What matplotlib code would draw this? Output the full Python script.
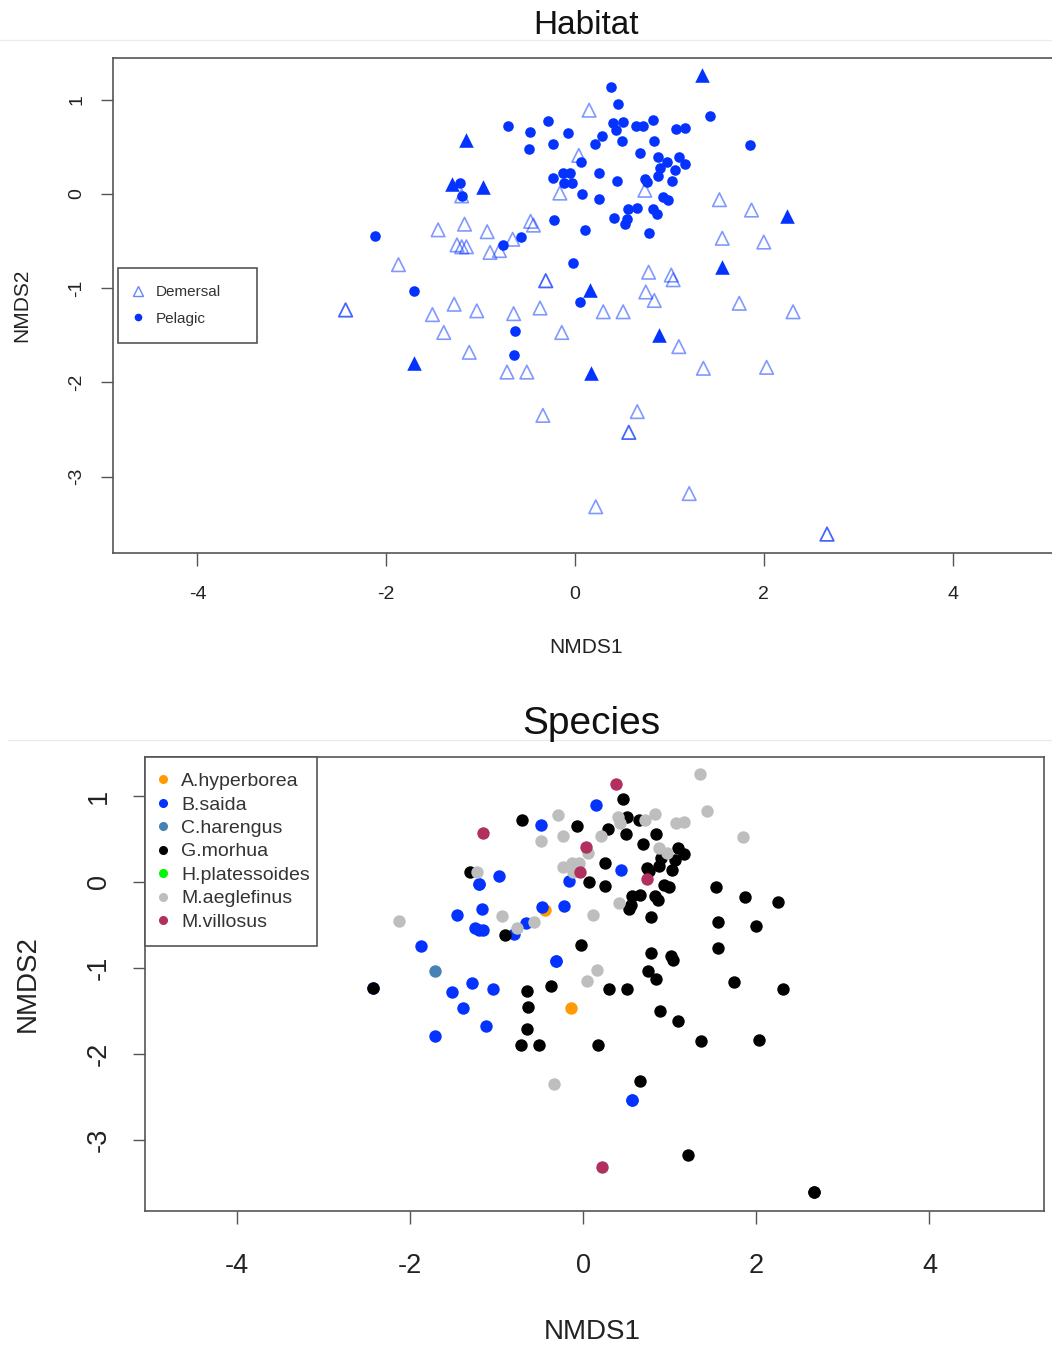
"""NMDS ordination: habitat (top) and species (bottom)"""

import matplotlib
matplotlib.use("Agg")
import matplotlib.pyplot as plt
from matplotlib.lines import Line2D

plt.rcParams['font.family'] = ['Liberation Sans', 'DejaVu Sans']

# ---- data (NMDS scores) ----
# pelagic samples (filled circles in the habitat plot)
pel_x = [-0.71, -0.48, -0.29, -0.07, -0.49, -0.23, -1.22, -1.20, -0.23, -0.13,
         -0.05, -0.12, -0.03, 0.07, -0.22, -0.76, -0.57, -2.12, -1.71, -0.02,
         0.05, -0.64, -0.65, 0.38, 0.46, 1.43, 0.40, 0.51, 0.43, 0.65,
         0.72, 0.83, 1.07, 1.17, 0.29, 0.21, 0.50, 0.84, 1.85, 0.69,
         0.06, 0.88, 0.97, 0.90, 1.10, 1.17, 1.06, 1.03, 0.25, 0.44,
         0.74, 0.76, 0.88, 0.25, 0.93, 0.99, 0.56, 0.66, 0.83, 0.87,
         0.41, 0.55, 0.53, 0.11, 0.78]
pel_y = [0.72, 0.66, 0.78, 0.65, 0.48, 0.53, 0.12, -0.02, 0.17, 0.22,
         0.22, 0.12, 0.12, 0.00, -0.28, -0.54, -0.46, -0.45, -1.03, -0.73,
         -1.15, -1.45, -1.71, 1.14, 0.96, 0.83, 0.75, 0.76, 0.68, 0.72,
         0.72, 0.79, 0.69, 0.70, 0.62, 0.53, 0.56, 0.56, 0.52, 0.44,
         0.34, 0.39, 0.34, 0.28, 0.39, 0.32, 0.25, 0.14, 0.22, 0.14,
         0.16, 0.13, 0.19, -0.05, -0.03, -0.06, -0.16, -0.15, -0.16, -0.21,
         -0.25, -0.27, -0.32, -0.38, -0.41]
pel_sp = ['G.morhua', 'B.saida', 'M.aeglefinus', 'G.morhua', 'M.aeglefinus',
          'M.aeglefinus', 'M.aeglefinus', 'B.saida', 'M.aeglefinus', 'M.aeglefinus',
          'M.aeglefinus', 'M.aeglefinus', 'M.villosus', 'G.morhua', 'B.saida',
          'M.aeglefinus', 'M.aeglefinus', 'M.aeglefinus', 'C.harengus', 'G.morhua',
          'M.aeglefinus', 'G.morhua', 'G.morhua', 'M.villosus', 'G.morhua',
          'M.aeglefinus', 'M.aeglefinus', 'G.morhua', 'M.aeglefinus', 'G.morhua',
          'M.aeglefinus', 'M.aeglefinus', 'M.aeglefinus', 'M.aeglefinus', 'G.morhua',
          'M.aeglefinus', 'G.morhua', 'G.morhua', 'M.aeglefinus', 'G.morhua',
          'M.aeglefinus', 'M.aeglefinus', 'M.aeglefinus', 'G.morhua', 'G.morhua',
          'G.morhua', 'G.morhua', 'G.morhua', 'G.morhua', 'B.saida',
          'G.morhua', 'G.morhua', 'G.morhua', 'G.morhua', 'G.morhua',
          'G.morhua', 'G.morhua', 'G.morhua', 'G.morhua', 'G.morhua',
          'M.aeglefinus', 'G.morhua', 'G.morhua', 'M.aeglefinus', 'G.morhua']

# samples drawn as filled triangles (not in the legend)
mix_x = [1.35, -1.15, -1.30, -0.97, 2.25, 1.56, 0.16, -1.71, 0.89, 0.17]
mix_y = [1.26, 0.57, 0.11, 0.07, -0.23, -0.77, -1.02, -1.79, -1.50, -1.90]
mix_sp = ['M.aeglefinus', 'M.villosus', 'G.morhua', 'B.saida', 'G.morhua',
          'G.morhua', 'M.aeglefinus', 'B.saida', 'G.morhua', 'G.morhua']

# demersal samples (open triangles)
dem_x = [-1.20, -0.16, -1.45, -1.17, -0.93, -0.47, -0.44, -1.25, -1.20, -1.15,
         -0.90, -0.80, -0.66, -1.87, -0.31, -0.31, -2.43, -2.43, -1.51, -1.28,
         -1.04, -0.65, -0.37, -1.39, -0.14, -1.12, -0.72, -0.51, -0.34, 0.15,
         0.04, 0.74, 1.53, 1.87, 1.56, 2.00, 0.78, 1.02, 1.04, 0.75,
         0.84, 0.30, 0.51, 1.74, 2.31, 1.10, 1.36, 2.03, 0.66, 0.57,
         0.57, 1.21, 0.22, 2.67, 2.67]
dem_y = [-0.02, 0.01, -0.38, -0.32, -0.40, -0.29, -0.33, -0.54, -0.56, -0.56,
         -0.62, -0.60, -0.48, -0.75, -0.92, -0.92, -1.23, -1.23, -1.28, -1.17,
         -1.24, -1.27, -1.21, -1.47, -1.47, -1.68, -1.89, -1.89, -2.35, 0.89,
         0.41, 0.04, -0.06, -0.17, -0.47, -0.51, -0.83, -0.86, -0.91, -1.04,
         -1.13, -1.25, -1.25, -1.16, -1.25, -1.62, -1.85, -1.84, -2.31, -2.53,
         -2.53, -3.18, -3.32, -3.61, -3.61]
dem_sp = ['B.saida', 'B.saida', 'B.saida', 'B.saida', 'M.aeglefinus',
          'B.saida', 'A.hyperborea', 'B.saida', 'B.saida', 'B.saida',
          'G.morhua', 'B.saida', 'B.saida', 'B.saida', 'B.saida',
          'B.saida', 'B.saida', 'G.morhua', 'B.saida', 'B.saida',
          'B.saida', 'G.morhua', 'G.morhua', 'B.saida', 'A.hyperborea',
          'B.saida', 'G.morhua', 'G.morhua', 'M.aeglefinus', 'B.saida',
          'M.villosus', 'M.villosus', 'G.morhua', 'G.morhua', 'G.morhua',
          'G.morhua', 'G.morhua', 'G.morhua', 'G.morhua', 'G.morhua',
          'G.morhua', 'G.morhua', 'G.morhua', 'G.morhua', 'G.morhua',
          'G.morhua', 'G.morhua', 'G.morhua', 'G.morhua', 'B.saida',
          'B.saida', 'G.morhua', 'M.villosus', 'G.morhua', 'G.morhua']

species_names = ['A.hyperborea', 'B.saida', 'C.harengus', 'G.morhua',
                 'H.platessoides', 'M.aeglefinus', 'M.villosus']
species_colors = ['#FF9A00', '#0433FF', '#4682B4', '#000000',
                  '#00F900', '#BEBEBE', '#B03060']

x_ticks = [-4, -2, 0, 2, 4]
y_ticks = [-3, -2, -1, 0, 1]

BLUE = '#0433FF'
SPINE = '#555555'
W, H = 1052, 1347


def px_axes(fig, left, top, right, bottom):
    return fig.add_axes([left / W, 1 - bottom / H, (right - left) / W, (bottom - top) / H])


def style(ax, fs, tick_len, xpad, ypad):
    ax.set_xticks(x_ticks)
    ax.set_yticks(y_ticks)
    ax.set_xticklabels([str(t) for t in x_ticks])
    ax.set_yticklabels([str(t) for t in y_ticks], rotation=90, va='center')
    ax.tick_params(axis='both', direction='out', length=tick_len, width=1,
                   color=SPINE, labelsize=fs, labelcolor='#222222')
    ax.tick_params(axis='x', pad=xpad)
    ax.tick_params(axis='y', pad=ypad)
    for s in ax.spines.values():
        s.set_color(SPINE)
        s.set_linewidth(1.2)


fig = plt.figure(figsize=(W / 100, H / 100), dpi=100)
fig.patch.set_facecolor('white')

# titles and the faint separators under them
fig.text(586 / W, 1 - 25 / H, 'Habitat', ha='center', va='center', fontsize=24, color='#111111')
fig.text(591 / W, 1 - 724 / H, 'Species', ha='center', va='center', fontsize=28, color='#111111')
fig.add_artist(Line2D([0, 1], [1 - 40 / H, 1 - 40 / H], color='#ebebeb', lw=1))
fig.add_artist(Line2D([8 / W, 1], [1 - 740 / H, 1 - 740 / H], color='#ebebeb', lw=1))

# ---- Habitat ----
ax1 = px_axes(fig, 113, 58, 1060, 553)
ax1.scatter(dem_x, dem_y, marker='^', s=95, facecolors='none',
            edgecolors=BLUE, linewidths=1.2, alpha=0.5, zorder=2)
ax1.scatter(pel_x, pel_y, marker='o', s=58, color=BLUE, linewidths=0, zorder=3)
ax1.scatter(mix_x, mix_y, marker='^', s=110, color=BLUE, linewidths=0, zorder=3)
ax1.set_xlim(-4.894, 5.138)
ax1.set_ylim(-3.811, 1.444)
style(ax1, 14, 9, 15, 11)
ax1.set_xlabel('NMDS1', fontsize=15, color='#222222')
ax1.xaxis.set_label_coords(0.4995, -0.19)
ax1.xaxis.label.set_va('center')
ax1.set_ylabel('NMDS2', fontsize=15, color='#222222')
ax1.yaxis.set_label_coords(-0.096, 0.5)
ax1.yaxis.label.set_va('center')

h_handles = [
    Line2D([], [], ls='none', marker='^', markersize=7, markerfacecolor='none',
           markeredgecolor=BLUE, markeredgewidth=1, alpha=0.6, label='Demersal'),
    Line2D([], [], ls='none', marker='o', markersize=4.5, color=BLUE, label='Pelagic'),
]
leg1 = ax1.legend(handles=h_handles, loc='center left',
                  bbox_to_anchor=(5 / 947, 0, 139 / 947, 1), mode='expand',
                  borderaxespad=0, fontsize=11, fancybox=False, framealpha=1,
                  edgecolor=SPINE, borderpad=1.15, handlelength=0.3,
                  handletextpad=1.03, labelspacing=0.8)
leg1.get_frame().set_linewidth(1.2)
for t in leg1.get_texts():
    t.set_color('#333333')

# ---- Species ----
ax2 = px_axes(fig, 145, 757, 1044, 1211)
all_x = pel_x + mix_x + dem_x
all_y = pel_y + mix_y + dem_y
all_sp = pel_sp + mix_sp + dem_sp
for name, col in zip(species_names, species_colors):
    xs = [x for x, s in zip(all_x, all_sp) if s == name]
    ys = [y for y, s in zip(all_y, all_sp) if s == name]
    ax2.scatter(xs, ys, marker='o', s=80, color=col, linewidths=0, zorder=3)
ax2.set_xlim(-5.058, 5.323)
ax2.set_ylim(-3.826, 1.453)
style(ax2, 19.5, 9, 21, 15)
ax2.set_xlabel('NMDS1', fontsize=20, color='#222222')
ax2.xaxis.set_label_coords(0.498, -0.266)
ax2.xaxis.label.set_va('center')
ax2.set_ylabel('NMDS2', fontsize=20, color='#222222')
ax2.yaxis.set_label_coords(-0.130, 0.502)
ax2.yaxis.label.set_va('center')

s_handles = [Line2D([], [], ls='none', marker='o', markersize=5.5, color=c, label=n)
             for n, c in zip(species_names, species_colors)]
leg2 = ax2.legend(handles=s_handles, loc='upper left',
                  bbox_to_anchor=(0, 0, 172 / 899, 1), mode='expand',
                  borderaxespad=0, fontsize=14, fancybox=False, framealpha=1,
                  edgecolor=SPINE, borderpad=0.8, handlelength=0.3,
                  handletextpad=0.75, labelspacing=0.3)
leg2.get_frame().set_linewidth(1.2)
for t in leg2.get_texts():
    t.set_color('#333333')

fig.savefig('out.png', dpi=100)
